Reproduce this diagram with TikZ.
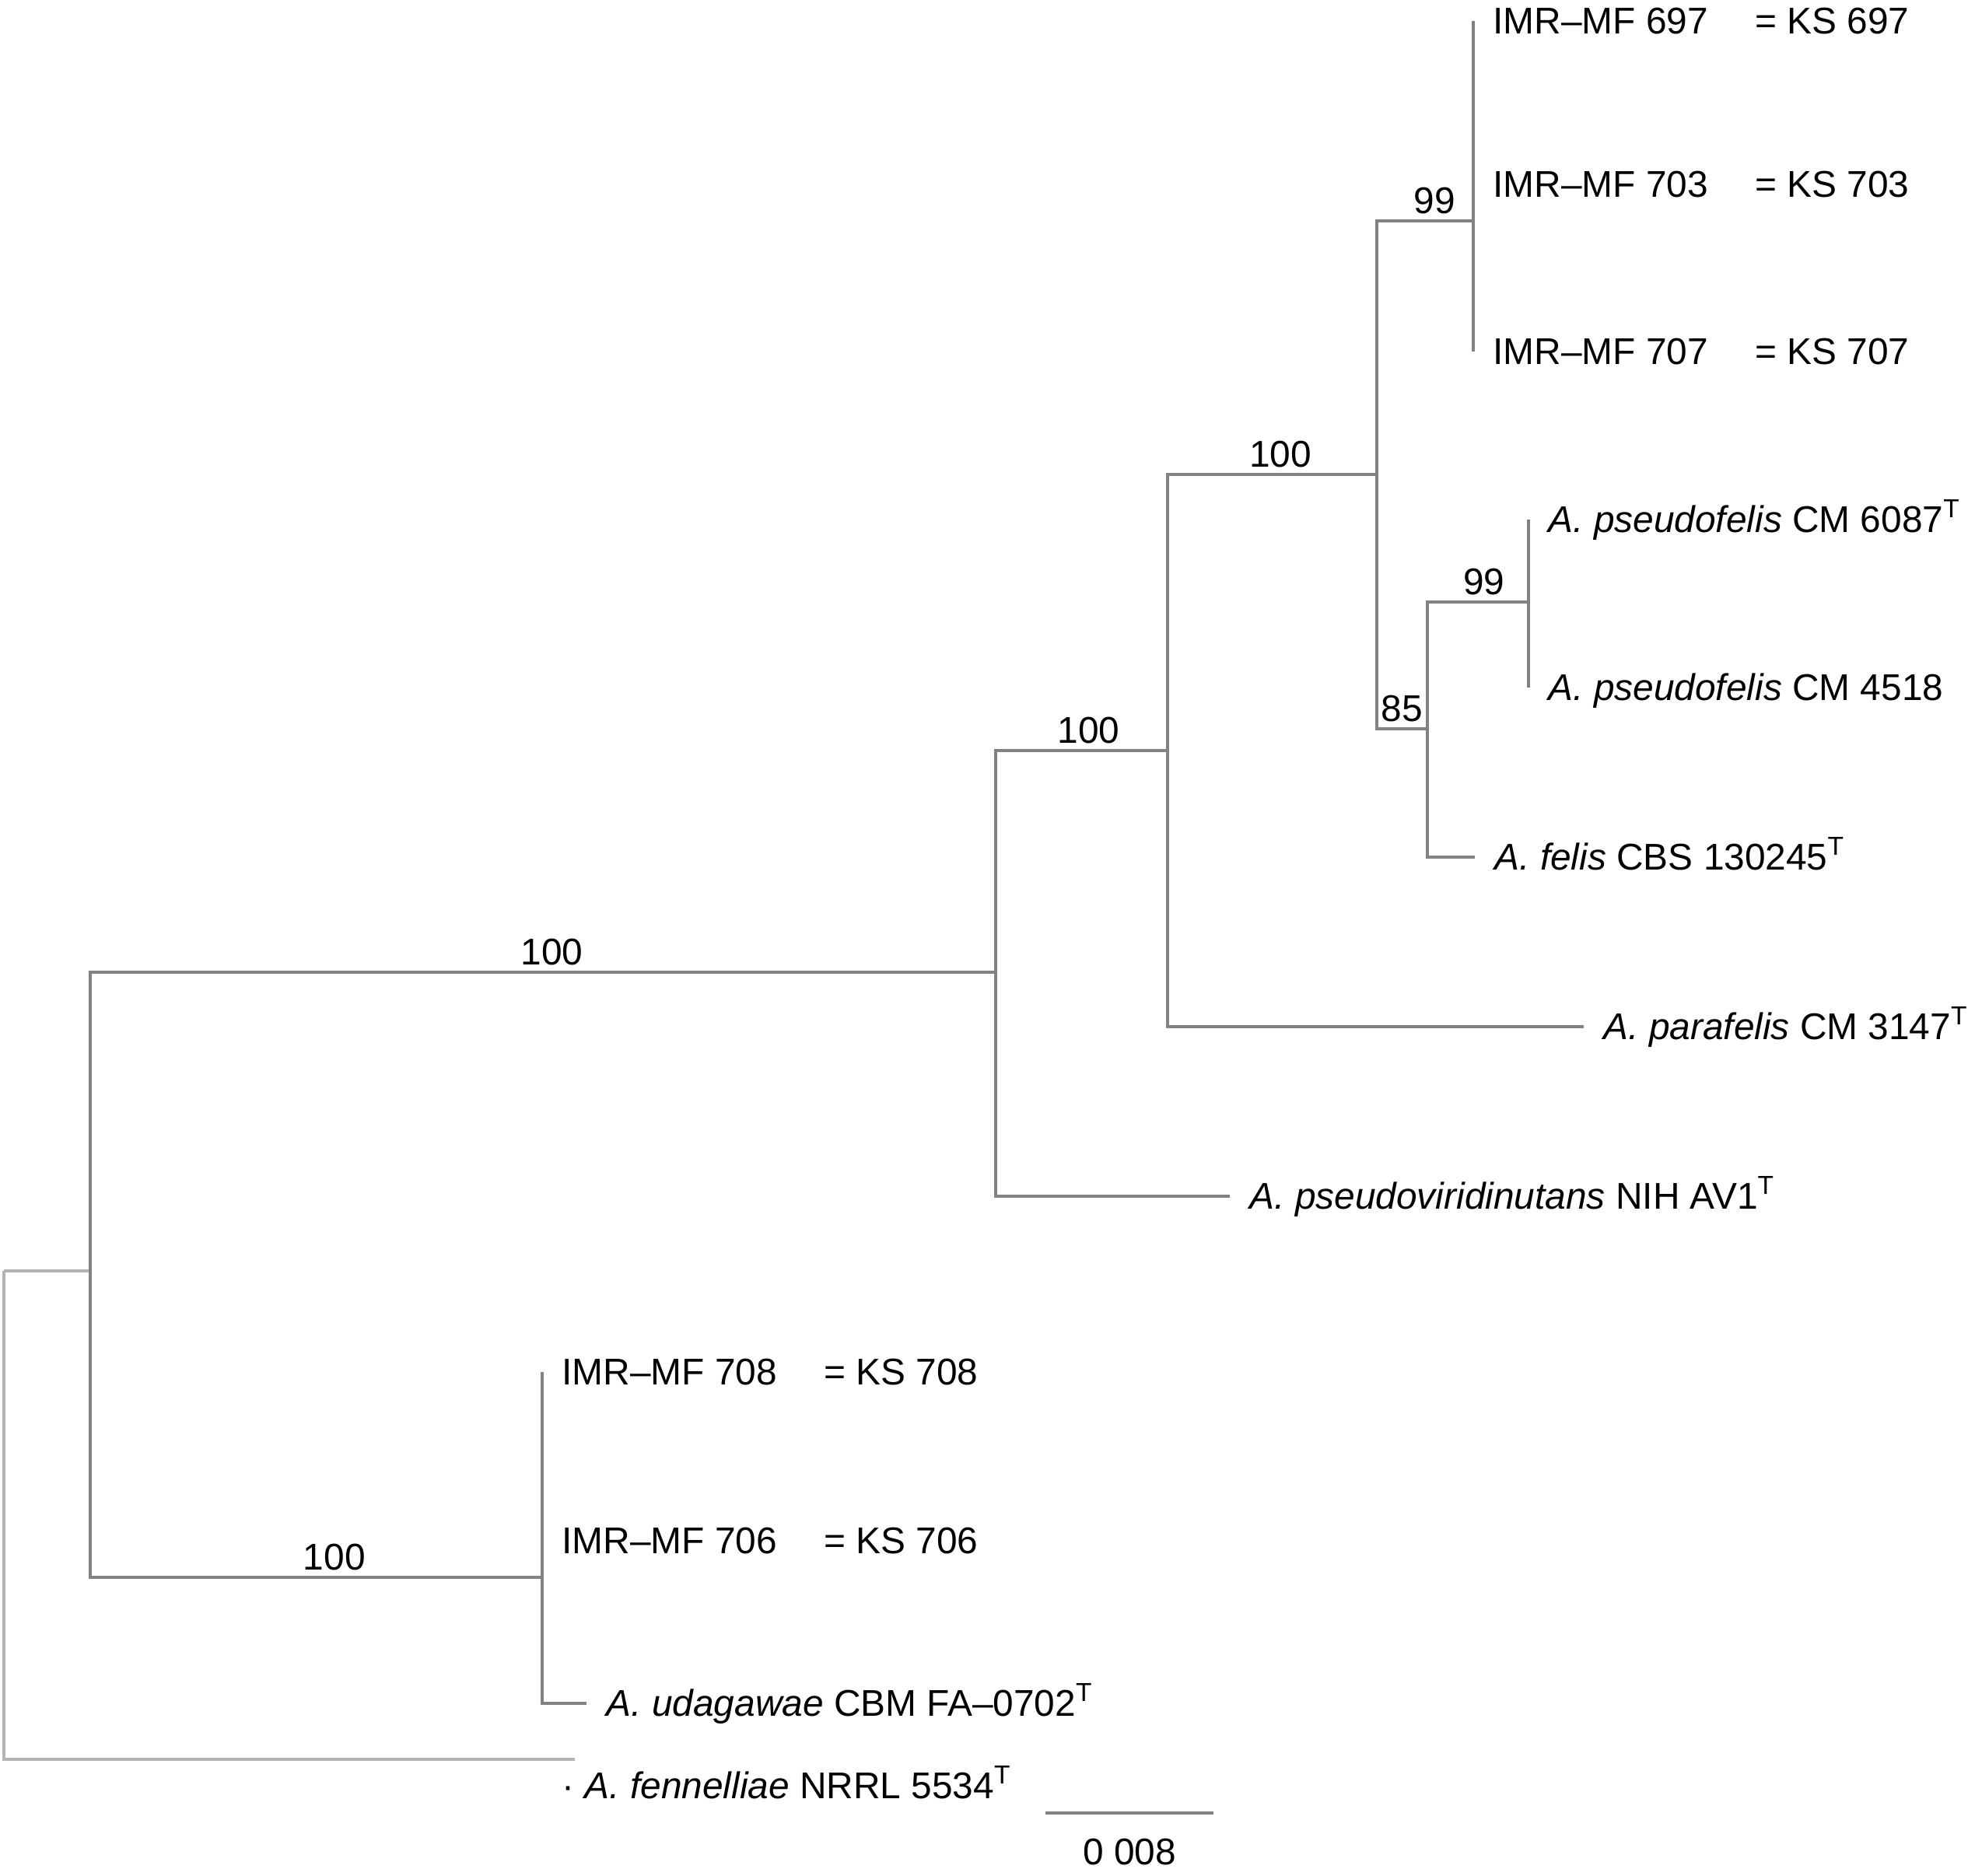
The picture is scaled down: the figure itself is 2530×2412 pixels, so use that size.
\documentclass[tikz,border=0pt]{standalone}
\usepackage{fontspec}
\setmainfont{Liberation Sans}
\usetikzlibrary{positioning}
\definecolor{treegray}{RGB}{130,130,130}
\definecolor{rootgray}{RGB}{180,180,180}
\newcommand{\Asp}[1]{\textit{A.~#1}}
\newcommand{\typ}{\textsuperscript{T}}

\begin{document}
\begin{tikzpicture}[x=0.01cm, y=-0.01cm, line width=0.9pt,
  font=\fontsize{13.6}{16}\selectfont,
  branch/.style={draw=treegray},
  rootbranch/.style={draw=rootgray},
  leaf/.style={anchor=base west, inner sep=0pt, xshift=0.24cm, yshift=-0.16cm},
  supp/.style={above, pos=0.77, inner sep=2pt}]
  \useasboundingbox (0,0) rectangle (2530,2412);

  \coordinate (root) at (5,1634);
  \coordinate (nA) at (116,1634);
  \coordinate (nB) at (1280,1250);
  \coordinate (nC) at (1501,965);
  \coordinate (nD) at (1770,610);
  \coordinate (nE) at (1894,284);
  \coordinate (nF) at (1835,937);
  \coordinate (nG) at (1965,774);
  \coordinate (nH) at (697,2028);

  \coordinate (l697) at (1894,27);
  \coordinate (l703) at (1894,237);
  \coordinate (l707) at (1894,452);
  \coordinate (l6087) at (1965,668);
  \coordinate (l4518) at (1965,884);
  \coordinate (lfelis) at (1896,1102);
  \coordinate (lpara) at (2036,1320);
  \coordinate (lpviri) at (1581,1538);
  \coordinate (l708) at (697,1764);
  \coordinate (l706) at (697,1981);
  \coordinate (ludag) at (754,2190);
  \coordinate (lfenn) at (739,2262);

  \draw[rootbranch] (root) -- (nA);
  \draw[rootbranch] (root) |- (lfenn);
  \draw[branch] (nA) |- node[supp, pos=0.755] {100} (nB);
  \draw[branch] (nA) |- node[supp] {100} (nH);
  \draw[branch] (nB) |- node[supp] {100} (nC);
  \draw[branch] (nB) |- (lpviri);
  \draw[branch] (nC) |- node[supp] {100} (nD);
  \draw[branch] (nC) |- (lpara);
  \draw[branch] (nD) |- node[supp, pos=0.8] {99} (nE);
  \draw[branch] (nD) |- node[supp, pos=0.75] {85} (nF);
  \draw[branch] (nE) |- (l697);
  \draw[branch] (nE) |- (l703);
  \draw[branch] (nE) |- (l707);
  \draw[branch] (nF) |- node[supp, pos=0.78] {99} (nG);
  \draw[branch] (nF) |- (lfelis);
  \draw[branch] (nG) |- (l6087);
  \draw[branch] (nG) |- (l4518);
  \draw[branch] (nH) |- (l708);
  \draw[branch] (nH) |- (l706);
  \draw[branch] (nH) |- (ludag);

  \node[leaf] (t697) at (l697) {IMR–MF 697};
  \node[inner sep=0pt, right=0.57cm of t697] (k697) {= KS 697};
  \node[leaf] (t703) at (l703) {IMR–MF 703};
  \node[inner sep=0pt, right=0.57cm of t703] (k703) {= KS 703};
  \node[leaf] (t707) at (l707) {IMR–MF 707};
  \node[inner sep=0pt, right=0.57cm of t707] (k707) {= KS 707};
  \node[leaf] (t6087) at (l6087) {\Asp{pseudofelis} CM 6087\typ};
  \node[leaf] (t4518) at (l4518) {\Asp{pseudofelis} CM 4518};
  \node[leaf] (tfelis) at (lfelis) {\Asp{felis} CBS 130245\typ};
  \node[leaf] (tpara) at (lpara) {\Asp{parafelis} CM 3147\typ};
  \node[leaf] (tpviri) at (lpviri) {\Asp{pseudoviridinutans} NIH AV1\typ};
  \node[leaf] (t708) at (l708) {IMR–MF 708};
  \node[inner sep=0pt, right=0.57cm of t708] (k708) {= KS 708};
  \node[leaf] (t706) at (l706) {IMR–MF 706};
  \node[inner sep=0pt, right=0.57cm of t706] (k706) {= KS 706};
  \node[leaf] (tudag) at (ludag) {\Asp{udagawae} CBM FA–0702\typ};
  \node[leaf] (tfenn) at ([shift={(-42,34)}]lfenn) {· \Asp{fennelliae} NRRL 5534\typ};

  \coordinate (sb1) at (1344,2331);
  \coordinate (sb2) at (1560,2331);
  \draw[branch] (sb1) -- node[below=0.2cm] (sblabel) {0 008} (sb2);
\end{tikzpicture}
\end{document}
